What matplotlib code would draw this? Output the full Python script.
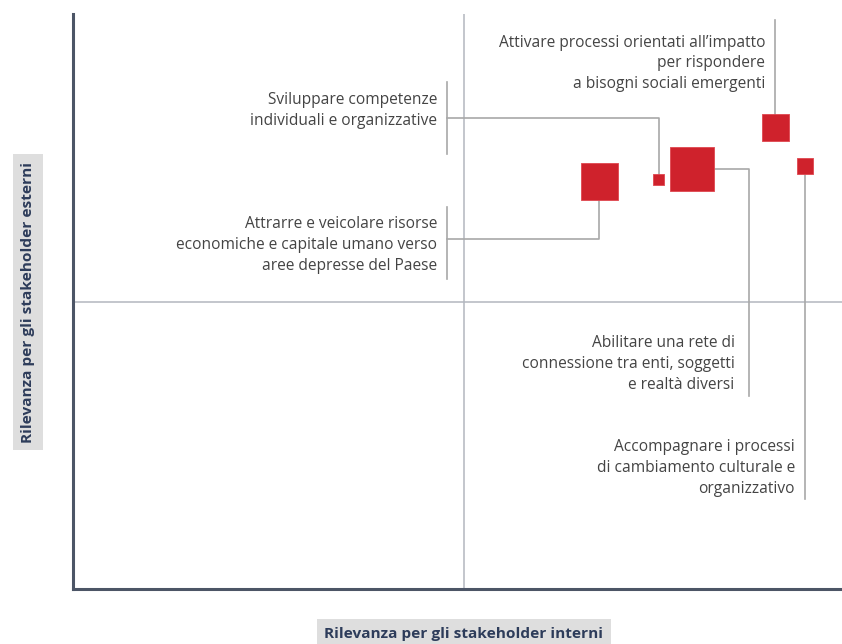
import matplotlib
matplotlib.use("Agg")
import matplotlib.pyplot as plt

plt.rcParams['font.family'] = ['Open Sans', 'DejaVu Sans']

# Data: relevance for internal (x) and external (y) stakeholders, plus weight
labels = [
    "Attrarre e veicolare risorse\neconomiche e capitale umano verso\naree depresse del Paese",
    "Sviluppare competenze\nindividuali e organizzative",
    "Abilitare una rete di\nconnessione tra enti, soggetti\ne realtà diversi",
    "Attivare processi orientati all’impatto\nper rispondere\na bisogni sociali emergenti",
    "Accompagnare i processi\ndi cambiamento culturale e\norganizzativo",
]
x_internal = [6.73, 7.49, 7.91, 8.98, 9.36]
y_external = [7.08, 7.13, 7.30, 8.03, 7.35]
weight = [37, 11, 44, 27, 16]

x_label = "Rilevanza per gli stakeholder interni"
y_label = "Rilevanza per gli stakeholder esterni"

W, H = 842, 644
fig = plt.figure(figsize=(W / 100, H / 100), dpi=100)
ax_left, ax_right, ax_bottom, ax_top = 73, 842, 589, 14
ax = fig.add_axes([ax_left / W, (H - ax_bottom) / H,
                   (ax_right - ax_left) / W, (ax_bottom - ax_top) / H])
xmax = (ax_right - ax_left) / 78.2
ax.set_xlim(0, xmax)
ax.set_ylim(0, 10)
for s in ['top', 'right']:
    ax.spines[s].set_visible(False)
for s in ['left', 'bottom']:
    ax.spines[s].set_color('#4c5566')
    ax.spines[s].set_linewidth(2.2)
ax.set_xticks([])
ax.set_yticks([])

mid_c = '#b3b7bf'
ax.axvline(5, color=mid_c, lw=1.1, zorder=1)
ax.axhline(5, color=mid_c, lw=1.1, zorder=1)

lc = '#a8a8a8'
lw = 1.2
txt_c = '#444444'
fs = 11.2
ls = 1.41

# leader lines (drawn to square centers, hidden beneath squares)
# 0 Attrarre
ax.plot([4.78, 4.78], [6.64, 5.39], color=lc, lw=lw, zorder=2)
ax.plot([4.78, x_internal[0], x_internal[0]], [6.09, 6.09, y_external[0]], color=lc, lw=lw, zorder=2)
ax.text(4.66, 5.98, labels[0], ha='right', va='center', fontsize=fs, color=txt_c, linespacing=ls)
# 1 Sviluppare
ax.plot([4.78, 4.78], [8.82, 7.57], color=lc, lw=lw, zorder=2)
ax.plot([4.78, x_internal[1], x_internal[1]], [8.19, 8.19, y_external[1]], color=lc, lw=lw, zorder=2)
ax.text(4.66, 8.32, labels[1], ha='right', va='center', fontsize=fs, color=txt_c, linespacing=ls)
# 2 Abilitare
ax.plot([x_internal[2], 8.65, 8.65], [y_external[2], y_external[2], 3.36], color=lc, lw=lw, zorder=2)
ax.text(8.46, 3.91, labels[2], ha='right', va='center', fontsize=fs, color=txt_c, linespacing=ls)
# 3 Attivare
ax.plot([x_internal[3], x_internal[3]], [9.90, y_external[3]], color=lc, lw=lw, zorder=2)
ax.text(8.85, 9.14, labels[3], ha='right', va='center', fontsize=fs, color=txt_c, linespacing=ls)
# 4 Accompagnare
ax.plot([x_internal[4], x_internal[4]], [y_external[4], 1.57], color=lc, lw=lw, zorder=2)
ax.text(9.23, 2.11, labels[4], ha='right', va='center', fontsize=fs, color=txt_c, linespacing=ls)

sizes = [(w * 0.72) ** 2 for w in weight]
ax.scatter(x_internal, y_external, s=sizes, marker='s', color='#cf222c',
           edgecolors='#e0474f', linewidths=0.6, zorder=3)

box = dict(boxstyle='square,pad=0.5', facecolor='#dedede', edgecolor='none')
fig.text(464 / W, 1 - 634 / H, x_label, ha='center', va='center', fontsize=11.1,
         fontweight='bold', color='#2d3c5a', bbox=box)
fig.text(28 / W, 1 - 302 / H, y_label, ha='center', va='center', fontsize=11.1,
         fontweight='bold', color='#2d3c5a', rotation=90, bbox=box)

fig.savefig('out.png', dpi=100)
